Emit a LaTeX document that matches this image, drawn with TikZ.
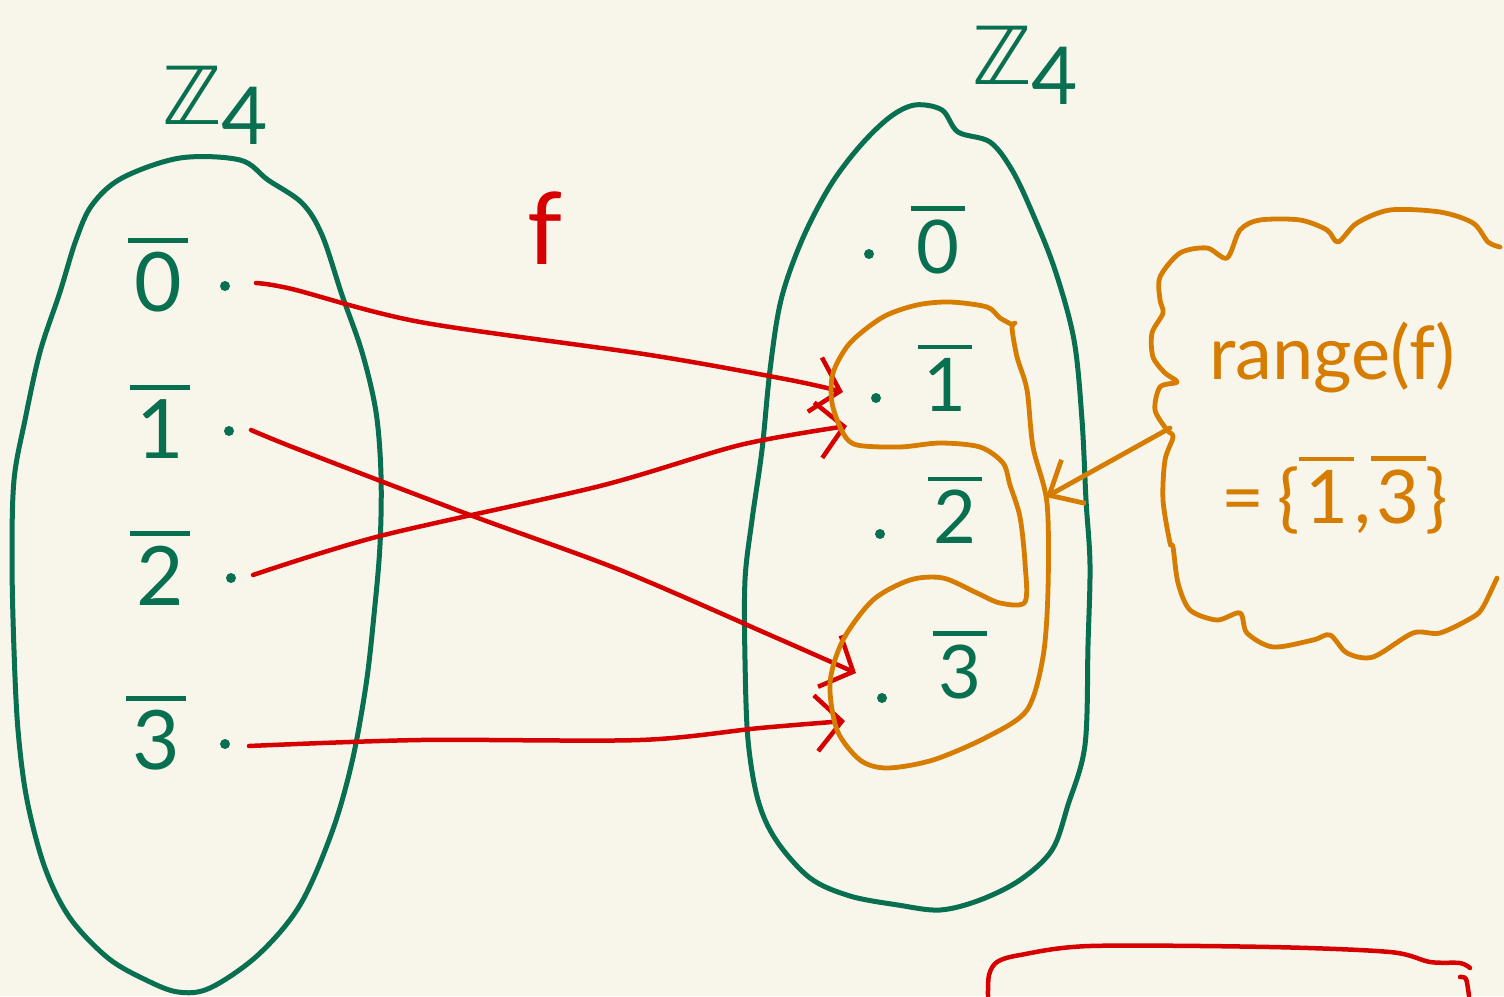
\documentclass[tikz,border=0pt]{standalone}
\usepackage{fontspec}
\setmainfont{Lato}
\setsansfont{Lato}
\newfontfamily\symfont{DejaVu Sans}
\usetikzlibrary{arrows.meta}
\definecolor{bg}{HTML}{F8F6EA}
\definecolor{grn}{HTML}{087050}
\definecolor{rd}{HTML}{D60000}
\definecolor{org}{HTML}{D67C00}
\tikzset{
  greenline/.style={draw=grn,line width=5pt,line cap=round,line join=round},
  redline/.style={draw=rd,line width=4.5pt,line cap=round,line join=round},
  orangeline/.style={draw=org,line width=4.8pt,line cap=round,line join=round},
  redarrow/.style={redline,-{Straight Barb[length=26pt,width=56pt,line width=4.5pt]}},
  orangearrow/.style={orangeline,-{Straight Barb[length=28pt,width=50pt,line width=4.8pt]}},
  dotnode/.style={circle,fill=grn,inner sep=0pt,minimum size=10pt},
  elemL/.style={text=grn,font=\fontsize{82}{90}\selectfont},
  elemR/.style={text=grn,font=\fontsize{74}{80}\selectfont},
  setlabel/.style={text=grn,font=\fontsize{80}{90}\selectfont},
  cloudtext/.style={text=org,font=\fontsize{74}{80}\selectfont}
}
\newcommand{\ovl}[1]{\vbox{\hrule height 0.06em\kern0.12em\hbox{\kern0.08em#1\kern0.08em}}}
\newcommand{\zfour}{{\symfont ℤ}\raisebox{-0.25em}{4}}
\begin{document}
\begin{tikzpicture}[x=1pt,y=-1pt]
\fill[bg] (0,0) rectangle (1504,996);
\useasboundingbox (0,0) rectangle (1504,996);

% left blob
\draw[greenline] plot[smooth cycle,tension=0.55] coordinates {
 (180,158) (240,160) (268,180) (302,203) (322,235) (342,295) (362,352)
 (376,412) (381,475) (380,545) (374,615) (366,685) (352,762) (332,832)
 (300,905) (258,955) (210,988) (178,992) (146,980) (108,958) (70,918)
 (45,868) (27,800) (18,730) (14,650) (12,560) (14,480) (25,420) (40,352)
 (60,292) (76,240) (92,205) (122,178) };

% right blob
\draw[greenline] plot[smooth cycle,tension=0.55] coordinates {
 (915,105) (942,110) (958,132) (990,142) (1012,170) (1032,212) (1055,270)
 (1074,340) (1082,420) (1086,500) (1090,565) (1088,645) (1085,745)
 (1068,805) (1052,850) (1020,880) (980,900) (940,910) (898,905) (850,896)
 (810,878) (776,840) (758,800) (748,740) (745,660) (745,580) (752,520)
 (762,450) (770,370) (781,300) (802,240) (830,186) (860,146) (890,117) };

% set labels
\node[setlabel] (zL) at (215,105) {\zfour};
\node[setlabel] (zR) at (1025,65) {\zfour};

% left elements
\node[elemL] (l0) at (158,275) {\ovl{0}};
\node[elemL] (l1) at (160,422) {\ovl{1}};
\node[elemL] (l2) at (160,568) {\ovl{2}};
\node[elemL] (l3) at (156,733) {\ovl{3}};
\node[dotnode] (dl0) at (225,286) {};
\node[dotnode] (dl1) at (229,431) {};
\node[dotnode] (dl2) at (231,578) {};
\node[dotnode] (dl3) at (225,744) {};

% right elements
\node[elemR] (r0) at (938,240) {\ovl{0}};
\node[elemR] (r1) at (945,378) {\ovl{1}};
\node[elemR] (r2) at (955,510) {\ovl{2}};
\node[elemR] (r3) at (960,665) {\ovl{3}};
\node[dotnode] (dr0) at (869,254) {};
\node[dotnode] (dr1) at (876,398) {};
\node[dotnode] (dr2) at (880,534) {};
\node[dotnode] (dr3) at (882,698) {};

% f label
\node[text=rd,font=\fontsize{100}{110}\selectfont] (f) at (545,228) {f};

% red arrows
\coordinate (s0) at (256,283);
\coordinate (s1) at (251,430);
\coordinate (s2) at (253,575);
\coordinate (s3) at (249,746);
\coordinate (t1) at (843,392);
\coordinate (t3) at (856,673);
\coordinate (u1) at (847,426);
\coordinate (u3) at (845,721);
\draw[redarrow] plot[smooth,tension=0.5] coordinates {(s0) (292,289) (420,322) (650,355) (790,380) (t1)};
\draw[redarrow] plot[smooth,tension=0.5] coordinates {(s1) (300,450) (470,515) (620,570) (770,635) (t3)};
\draw[redarrow] plot[smooth,tension=0.5] coordinates {(s2) (380,536) (600,486) (740,445) (u1)};
\draw[redarrow] plot[smooth,tension=0.5] coordinates {(s3) (420,740) (640,740) (760,728) (u3)};

% orange outline around 1 and 3
\draw[orangeline] plot[smooth,tension=0.5] coordinates {
 (1013,325) (1000,318) (987,307) (950,302) (917,305) (883,317) (850,343)
 (833,373) (832,403) (843,433) (857,445) (900,447) (940,443) (980,447)
 (1003,463) (1010,485) (1020,517) (1025,563) (1025,602) (1000,603)
 (977,593) (943,578) (910,580) (873,600) (843,640) (830,683) (837,730)
 (860,760) (887,768) (933,760) (987,737) (1027,710) (1043,657) (1048,590)
 (1047,503) (1033,447) (1027,390) (1017,357) (1012,328) (1015,323) };

% cloud
\draw[orangeline] plot[smooth,tension=0.5] coordinates {
 (1500,247) (1488,242) (1473,223) (1440,212) (1390,210) (1357,223) (1338,242)
 (1327,230) (1300,220) (1260,220) (1240,230) (1227,258) (1207,248) (1180,253)
 (1160,277) (1160,300) (1163,313) (1152,333) (1153,357) (1165,373) (1177,382)
 (1160,387) (1155,410) (1167,430) (1173,437) (1165,460) (1163,500) (1170,543)
 (1173,547) (1178,583) (1190,610) (1217,620) (1240,613) (1247,633) (1273,647)
 (1313,640) (1330,635) (1347,653) (1373,657) (1413,633) (1440,633) (1473,617)
 (1483,607) (1497,578) };

\node[cloudtext] (rng) at (1332,358) {range(f)};
\node[cloudtext] (eq) at (1335,495) {=\,\{\ovl{1},\ovl{3}\}};

\coordinate (ca) at (1170,428);
\coordinate (ct) at (1046,497);
\draw[orangearrow] (ca) -- (ct);

% red box at bottom right
\draw[redline] plot[smooth,tension=0.5] coordinates {
 (988,996) (989,975) (997,962) (1020,955) (1090,946) (1270,947) (1390,952)
 (1430,962) (1460,963) (1470,968) };
\draw[redline] plot[smooth,tension=0.5] coordinates {(1460,977) (1466,979) (1469,996)};
\end{tikzpicture}
\end{document}
